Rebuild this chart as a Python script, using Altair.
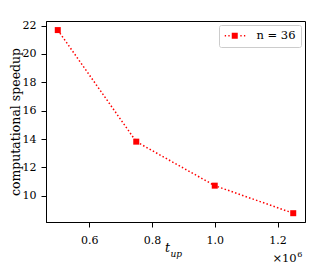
import altair as alt
import pandas as pd

# data (t_up in units of 1e6)
t_up = [0.5, 0.75, 1.0, 1.25]
speedup = [21.68, 13.82, 10.72, 8.78]
series_name = "n = 36"
x_ticks = [0.6, 0.8, 1.0, 1.2]
y_ticks = [10, 12, 14, 16, 18, 20, 22]

df = pd.DataFrame({"t_up": t_up, "speedup": speedup, "series": [series_name] * len(t_up)})

FONT = "DejaVu Serif"
RED = "#ff0000"

legend_path = (
    "M-1,-0.13H-0.74V0.13H-1Z "
    "M-0.28,-0.13H-0.02V0.13H-0.28Z "
    "M0.4,-0.6H1.6V0.6H0.4Z "
    "M2.12,-0.13H2.38V0.13H2.12Z "
    "M2.84,-0.13H3.1V0.13H2.84Z"
)

color = alt.Color(
    "series:N",
    scale=alt.Scale(range=[RED]),
    legend=alt.Legend(
        title=None,
        orient="top-right",
        offset=4,
        padding=5,
        symbolType=legend_path,
        symbolSize=100,
        symbolFillColor=RED,
        symbolStrokeColor=RED,
        symbolStrokeWidth=0,
        symbolOpacity=1,
        labelOffset=21,
        labelFont=FONT,
        labelFontSize=11.5,
        labelFontWeight="normal",
        labelColor="black",
        strokeColor="#cccccc",
        fillColor="white",
        cornerRadius=2,
    ),
)

x_enc = alt.X(
    "t_up:Q",
    scale=alt.Scale(domain=[0.4625, 1.2875], nice=False, zero=False),
    axis=alt.Axis(values=x_ticks, format=".1f", title=None, labelPadding=7),
)
y_enc = alt.Y(
    "speedup:Q",
    scale=alt.Scale(domain=[8.16, 22.32], nice=False, zero=False),
    axis=alt.Axis(values=y_ticks, format="d", title="computational speedup",
                  labelPadding=5, titlePadding=0),
)

base = alt.Chart(df).encode(x=x_enc, y=y_enc, color=color)
line = base.mark_line(strokeDash=[1.5, 2.2], strokeWidth=1.5, strokeCap="butt")
pts = base.mark_point(shape="square", filled=True, size=36, opacity=1)

title_t = alt.Chart(pd.DataFrame({"s": ["t"]})).mark_text(
    font=FONT, fontSize=12.5, fontStyle="italic", align="left", baseline="alphabetic", color="black"
).encode(x=alt.value(119), y=alt.value(230.5), text="s:N")
title_sub = alt.Chart(pd.DataFrame({"s": ["up"]})).mark_text(
    font=FONT, fontSize=9, fontStyle="italic", align="left", baseline="alphabetic", color="black"
).encode(x=alt.value(124.5), y=alt.value(236), text="s:N")
offset_main = alt.Chart(pd.DataFrame({"s": ["×10"]})).mark_text(
    font=FONT, fontSize=11.5, align="right", baseline="alphabetic", color="black"
).encode(x=alt.value(250.7), y=alt.value(240.5), text="s:N")
offset_exp = alt.Chart(pd.DataFrame({"s": ["6"]})).mark_text(
    font=FONT, fontSize=8, align="left", baseline="alphabetic", color="black"
).encode(x=alt.value(251.2), y=alt.value(236), text="s:N")

chart = (
    alt.layer(line, pts, title_t, title_sub, offset_main, offset_exp)
    .properties(
        width=259,
        height=201,
        autosize=alt.AutoSizeParams(type="none"),
        padding={"left": 38, "top": 13, "right": 19, "bottom": 44},
        background="white",
    )
    .configure_view(stroke="black", strokeWidth=1)
    .configure_axis(
        grid=False,
        domainColor="black",
        domainWidth=1,
        tickColor="black",
        tickWidth=1,
        tickSize=5,
        labelFont=FONT,
        labelFontSize=11,
        labelColor="black",
        titleFont=FONT,
        titleFontSize=12.5,
        titleFontWeight="normal",
        titleColor="black",
    )
)

chart.save("out.html", embed_options={"renderer": "svg", "actions": False})
